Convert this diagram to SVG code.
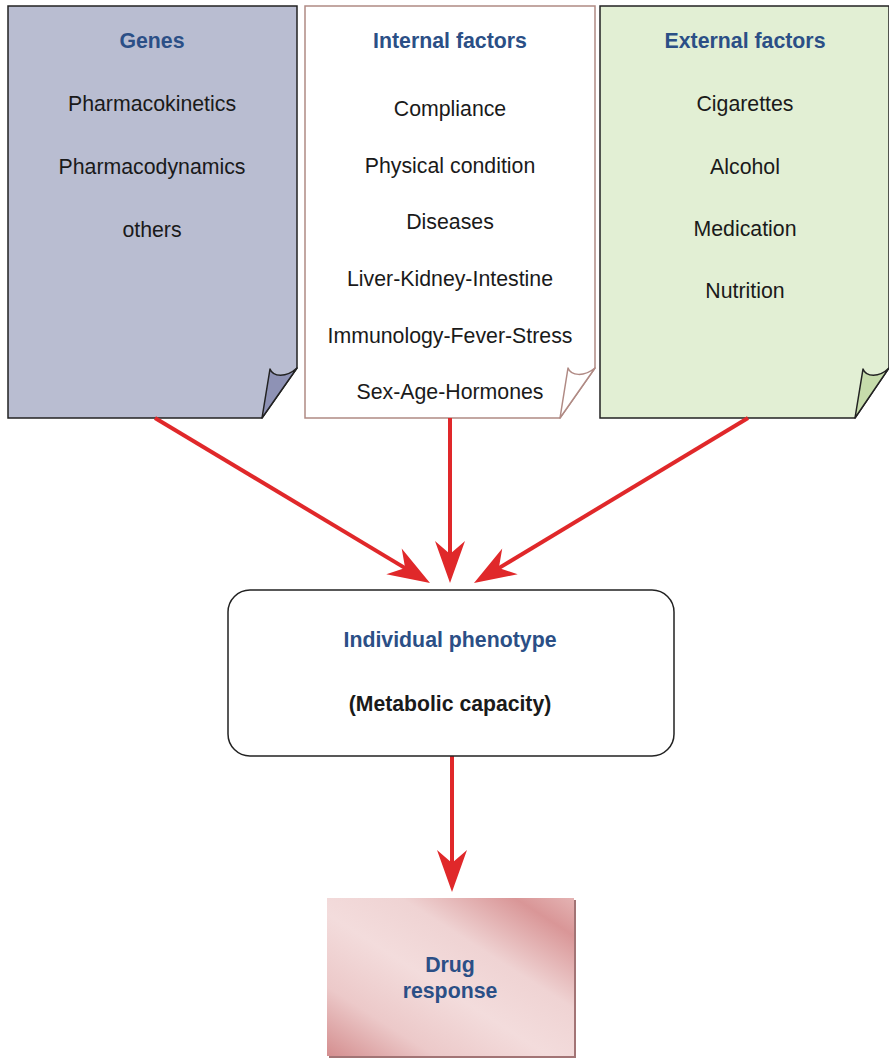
<svg xmlns="http://www.w3.org/2000/svg" width="889" height="1058" viewBox="0 0 889 1058">
<defs>
<style>
.t{font-family:"Liberation Sans",Arial,sans-serif;font-size:21.3px;font-weight:bold;fill:#2b4f86;text-anchor:middle}
.i{font-family:"Liberation Sans",Arial,sans-serif;font-size:21.3px;fill:#1a1a1a;text-anchor:middle}
.b{font-family:"Liberation Sans",Arial,sans-serif;font-size:21.2px;font-weight:bold;fill:#1a1a1a;text-anchor:middle}
.ln{stroke:#e0282a;stroke-width:4;fill:none}
.ah{fill:#e0282a}
</style>
<linearGradient id="dg" x1="0" y1="1" x2="1" y2="0">
<stop offset="0" stop-color="#d48e8f"/>
<stop offset="0.22" stop-color="#ecc9c9"/>
<stop offset="0.45" stop-color="#f3dcdc"/>
<stop offset="0.65" stop-color="#efd3d3"/>
<stop offset="0.88" stop-color="#d99697"/>
<stop offset="1" stop-color="#e4b3b3"/>
</linearGradient>
</defs>
<g id="genes">
<path d="M8,6 H297 V368 L262,418 H8 Z" fill="#b9bdd1" stroke="#222" stroke-width="1.5"/>
<path d="M262,418 L270,369 C273,377 286,378 297,368 Z" fill="#8e92b5" stroke="#222" stroke-width="1.5" stroke-linejoin="round"/>
<text class="t" x="152" y="47.5">Genes</text>
<text class="i" x="152" y="110.5">Pharmacokinetics</text>
<text class="i" x="152" y="173.5">Pharmacodynamics</text>
<text class="i" x="152" y="236.5">others</text>
</g>
<g id="internal">
<path d="M305,6 H595 V368 L560,418 H305 Z" fill="#fff" stroke="#b08a84" stroke-width="1.5"/>
<path d="M560,418 L568,368 C571,376 584,377 595,368 Z" fill="#fff" stroke="#b08a84" stroke-width="1.5" stroke-linejoin="round"/>
<text class="t" x="450" y="47.5">Internal factors</text>
<text class="i" x="450" y="115.5">Compliance</text>
<text class="i" x="450" y="172.5">Physical condition</text>
<text class="i" x="450" y="228.5">Diseases</text>
<text class="i" x="450" y="285.5">Liver-Kidney-Intestine</text>
<text class="i" x="450" y="342.5">Immunology-Fever-Stress</text>
<text class="i" x="450" y="398.5">Sex-Age-Hormones</text>
</g>
<g id="external">
<path d="M600,6 H889 V368 L855,418 H600 Z" fill="#e2efd4" stroke="#222" stroke-width="1.5"/>
<path d="M855,418 L863,369 C866,377 879,378 889,368 Z" fill="#c6dcab" stroke="#222" stroke-width="1.5" stroke-linejoin="round"/>
<text class="t" x="745" y="47.5">External factors</text>
<text class="i" x="745" y="110.5">Cigarettes</text>
<text class="i" x="745" y="173.5">Alcohol</text>
<text class="i" x="745" y="235.5">Medication</text>
<text class="i" x="745" y="297.5">Nutrition</text>
</g>
<g id="connectors">
<line class="ln" x1="155" y1="418" x2="406" y2="568.6"/>
<path class="ah" d="M0,0 L-42,-15 L-29,0 L-42,15 Z" transform="translate(430,583) rotate(30.96)"/>
<line class="ln" x1="450" y1="418" x2="450" y2="556"/>
<path class="ah" d="M0,0 L-42,-15 L-29,0 L-42,15 Z" transform="translate(450,583) rotate(90)"/>
<line class="ln" x1="748" y1="418" x2="498" y2="568.6"/>
<path class="ah" d="M0,0 L-42,-15 L-29,0 L-42,15 Z" transform="translate(474,583) rotate(148.94)"/>
<line class="ln" x1="452" y1="756" x2="452" y2="865"/>
<path class="ah" d="M0,0 L-42,-15 L-29,0 L-42,15 Z" transform="translate(452,892) rotate(90)"/>
</g>
<g id="phenotype">
<rect x="228" y="590" width="446" height="166" rx="22" fill="#fff" stroke="#222" stroke-width="1.5"/>
<text class="t" x="450" y="646.5">Individual phenotype</text>
<text class="b" x="450" y="710.5">(Metabolic capacity)</text>
</g>
<g id="drug">
<rect x="329" y="900" width="247" height="158" fill="#a27475"/>
<rect x="327" y="898" width="247" height="158" fill="url(#dg)"/>
<text class="t" x="450" y="971.5">Drug</text>
<text class="t" x="450" y="997.5">response</text>
</g>
</svg>
